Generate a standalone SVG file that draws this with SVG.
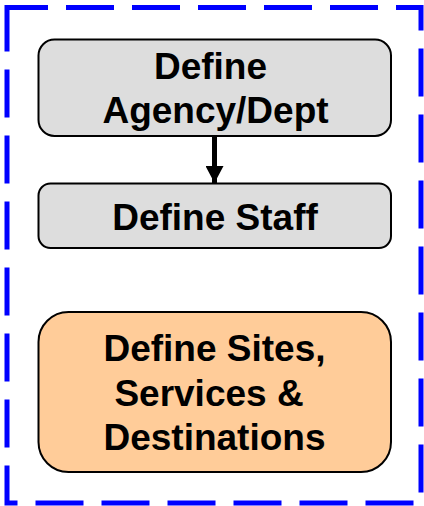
<svg xmlns="http://www.w3.org/2000/svg" width="424" height="506" viewBox="0 0 424 506">
<style>
.frame{fill:none;stroke:#0000FF;stroke-width:5;stroke-dasharray:48 18;stroke-dashoffset:7}
.box{stroke:#000;stroke-width:2}
.gray{fill:#DDDDDD}
.orange{fill:#FFCC99}
.lbl{font-family:"Liberation Sans",Arial,sans-serif;font-weight:bold;font-size:37px;fill:#000;text-anchor:middle}
.conn{stroke:#000;stroke-width:5;fill:none}
</style>
<defs>
<marker id="ah" markerUnits="userSpaceOnUse" markerWidth="18" markerHeight="18" refX="17" refY="9" orient="auto" viewBox="0 0 18 18">
<path d="M0,0 L17,9 L0,18 Z" fill="#000"/>
</marker>
</defs>
<rect class="frame" x="7" y="7.5" width="414" height="495.5"/>
<g id="connectors">
<line class="conn" x1="214.5" y1="137" x2="214.5" y2="183" marker-end="url(#ah)"/>
</g>
<g id="node-agency">
<rect class="box gray" x="38.5" y="39.5" width="352.5" height="96.5" rx="16"/>
<text class="lbl" x="210.5" y="79">Define</text>
<text class="lbl" x="215.5" y="123">Agency/Dept</text>
</g>
<g id="node-staff">
<rect class="box gray" x="38.5" y="183.5" width="352.5" height="64.5" rx="12"/>
<text class="lbl" x="215" y="230">Define Staff</text>
</g>
<g id="node-sites">
<rect class="box orange" x="38.5" y="312" width="352.5" height="160" rx="30"/>
<text class="lbl" x="214.5" y="361">Define Sites,</text>
<text class="lbl" x="209" y="406">Services &amp;</text>
<text class="lbl" x="214.5" y="450">Destinations</text>
</g>
</svg>
